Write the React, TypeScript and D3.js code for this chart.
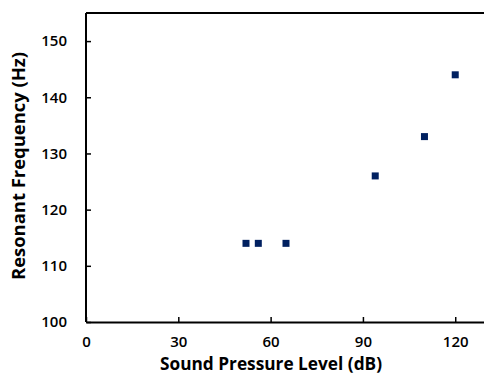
import React, { useEffect, useRef } from 'react'
import { select, scaleLinear, axisLeft, axisBottom } from 'd3'

const splValues = [52, 56, 65, 94, 110, 120]
const freqValues = [114, 114, 114, 126, 133, 144]
const xTicks = [0, 30, 60, 90, 120]
const yTicks = [100, 110, 120, 130, 140, 150]

const W = 484
const H = 376
const margin = { left: 86, top: 13, right: -2, bottom: 54 }
const font = '"Open Sans", "Liberation Sans", sans-serif'

const App = () => {
  const svgRef = useRef<SVGSVGElement>(null)

  useEffect(() => {
    const svg = select(svgRef.current)
    svg.selectAll('*').remove()

    const x = scaleLinear().domain([0, 130]).range([margin.left, W - margin.right])
    const y = scaleLinear().domain([100, 155]).range([H - margin.bottom, margin.top])

    // top border
    svg.append('line')
      .attr('x1', margin.left).attr('x2', W)
      .attr('y1', margin.top).attr('y2', margin.top)
      .attr('stroke', '#000').attr('stroke-width', 2)

    const yAxis = svg.append('g')
      .attr('transform', `translate(${margin.left},0)`)
      .call(axisLeft(y).tickValues(yTicks).tickSizeInner(-5).tickSizeOuter(0).tickPadding(19))
    yAxis.select('.domain').attr('stroke-width', 2).attr('d', `M0,${margin.top}V${H - margin.bottom}`)

    const xAxis = svg.append('g')
      .attr('transform', `translate(0,${H - margin.bottom})`)
      .call(axisBottom(x).tickValues(xTicks).tickSizeInner(-5).tickSizeOuter(0).tickPadding(14))
    xAxis.select('.domain').attr('stroke-width', 2)

    svg.selectAll('.tick line').attr('stroke-width', 1.5)
    svg.selectAll('.tick text')
      .attr('font-family', font)
      .attr('font-size', 15)
      .attr('font-weight', 600)
      .attr('fill', '#000')

    svg.selectAll('.pt')
      .data(splValues)
      .join('rect')
      .attr('class', 'pt')
      .attr('x', (d: number) => x(d) - 3.5)
      .attr('y', (_d: number, i: number) => y(freqValues[i]) - 3.5)
      .attr('width', 7)
      .attr('height', 7)
      .attr('fill', '#002060')

    svg.append('text')
      .attr('x', 271).attr('y', 370)
      .attr('text-anchor', 'middle')
      .attr('font-family', font).attr('font-weight', 'bold').attr('font-size', 17)
      .attr('textLength', 222).attr('lengthAdjust', 'spacingAndGlyphs')
      .text('Sound Pressure Level (dB)')

    svg.append('text')
      .attr('transform', `translate(25,166) rotate(-90)`)
      .attr('text-anchor', 'middle')
      .attr('font-family', font).attr('font-weight', 'bold').attr('font-size', 17)
      .attr('textLength', 228).attr('lengthAdjust', 'spacingAndGlyphs')
      .text('Resonant Frequency (Hz)')
  }, [])

  return (
    <svg ref={svgRef} width={W} height={H}
      style={{ position: 'absolute', left: 0, top: 0, background: '#fff' }} />
  )
}

export default App
